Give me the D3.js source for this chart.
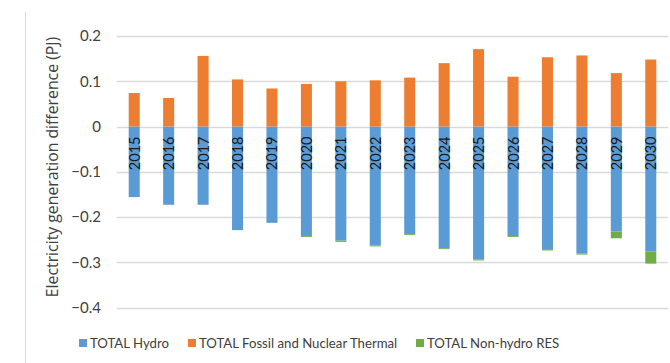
<!DOCTYPE html>
<html>
<head>
<meta charset="utf-8">
<script src="https://cdn.jsdelivr.net/npm/d3@7"></script>
<style>
  html, body { margin: 0; padding: 0; background: #fff; }
  svg { display: block; font-family: Lato, "Open Sans", sans-serif; }
</style>
</head>
<body>
<svg id="chart" width="670" height="363"></svg>
<script>
// Years on the x axis
const years = ["2015","2016","2017","2018","2019","2020","2021","2022","2023","2024","2025","2026","2027","2028","2029","2030"];
// Generation differences in PJ, per technology group
const hydro  = [-0.156,-0.173,-0.173,-0.229,-0.213,-0.242,-0.252,-0.263,-0.238,-0.269,-0.294,-0.242,-0.271,-0.281,-0.232,-0.276];
const fossil = [0.074,0.063,0.156,0.104,0.084,0.094,0.100,0.102,0.108,0.140,0.171,0.110,0.153,0.157,0.118,0.148];
const res    = [0,0,0,0,0,-0.002,-0.003,-0.002,-0.002,-0.002,-0.002,-0.002,-0.003,-0.002,-0.015,-0.027];
const seriesNames = ["TOTAL Hydro","TOTAL Fossil and Nuclear Thermal","TOTAL Non-hydro RES"];
const yTicks = [0.2,0.1,0,-0.1,-0.2,-0.3,-0.4];
const yTitle = "Electricity generation difference (PJ)";

const colors = ["#5B9BD5","#ED7D31","#70AD47"];
const svg = d3.select("#chart");
const plotL = 117, plotR = 668, plotT = 36, plotB = 307.5;

const x = d3.scaleBand().domain(years).range([plotL, plotR]).paddingInner(0.68).paddingOuter(0.34);
const y = d3.scaleLinear().domain([-0.4, 0.2]).range([plotB, plotT]);

// chart frame edge
svg.append("line").attr("x1",25.5).attr("x2",25.5).attr("y1",12).attr("y2",363)
  .attr("stroke","#d9d9d9").attr("stroke-width",1);

// gridlines
svg.append("g").selectAll("line").data(yTicks).join("line")
  .attr("x1", plotL).attr("x2", plotR)
  .attr("y1", d => Math.round(y(d)) + 0.5).attr("y2", d => Math.round(y(d)) + 0.5)
  .attr("stroke", "#d9d9d9").attr("stroke-width", 1.3);

// y axis labels
const yAxis = d3.axisLeft(y).tickValues(yTicks).tickSize(0).tickPadding(0)
  .tickFormat(d => d === 0 ? "0" : d3.format(".1f")(d));
const ga = svg.append("g").attr("transform", `translate(101,0)`).call(yAxis);
ga.select(".domain").remove();
ga.selectAll("text").attr("font-size", 15).attr("fill", "#404040").attr("font-family", "Lato, sans-serif");

// axis title
svg.append("text")
  .attr("transform", `translate(58,167) rotate(-90)`)
  .attr("text-anchor","middle")
  .attr("font-family", "'Open Sans', sans-serif")
  .attr("font-size", 15.8).attr("fill","#404040")
  .text(yTitle);

// stacked bars: negatives stack downward from zero, positives upward
const bw = x.bandwidth();
const g = svg.append("g");
years.forEach((yr, i) => {
  const xi = x(yr);
  g.append("rect").attr("x", xi).attr("width", bw)
    .attr("y", y(0)).attr("height", y(hydro[i]) - y(0)).attr("fill", colors[0]);
  if (res[i] < 0) {
    g.append("rect").attr("x", xi).attr("width", bw)
      .attr("y", y(hydro[i])).attr("height", y(hydro[i] + res[i]) - y(hydro[i])).attr("fill", colors[2]);
  }
  g.append("rect").attr("x", xi).attr("width", bw)
    .attr("y", y(fossil[i])).attr("height", y(0) - y(fossil[i])).attr("fill", colors[1]);
});

// year labels inside the hydro bars
svg.append("g").selectAll("text").data(years).join("text")
  .attr("transform", d => `translate(${x(d) + bw/2},${y(0) + 10}) rotate(-90)`)
  .attr("text-anchor","end").attr("dominant-baseline","central")
  .attr("font-size", 14.5).attr("fill","#1a1a1a")
  .text(d => d);

// legend
const legendX = [79, 188, 416];
const lg = svg.append("g");
seriesNames.forEach((name, i) => {
  lg.append("rect").attr("x", legendX[i]).attr("y", 339).attr("width", 8).attr("height", 8).attr("fill", colors[i]);
  lg.append("text").attr("x", legendX[i] + 11).attr("y", 343).attr("dominant-baseline","central")
    .attr("font-size", 13.2).attr("fill","#404040").text(name);
});
</script>
</body>
</html>
